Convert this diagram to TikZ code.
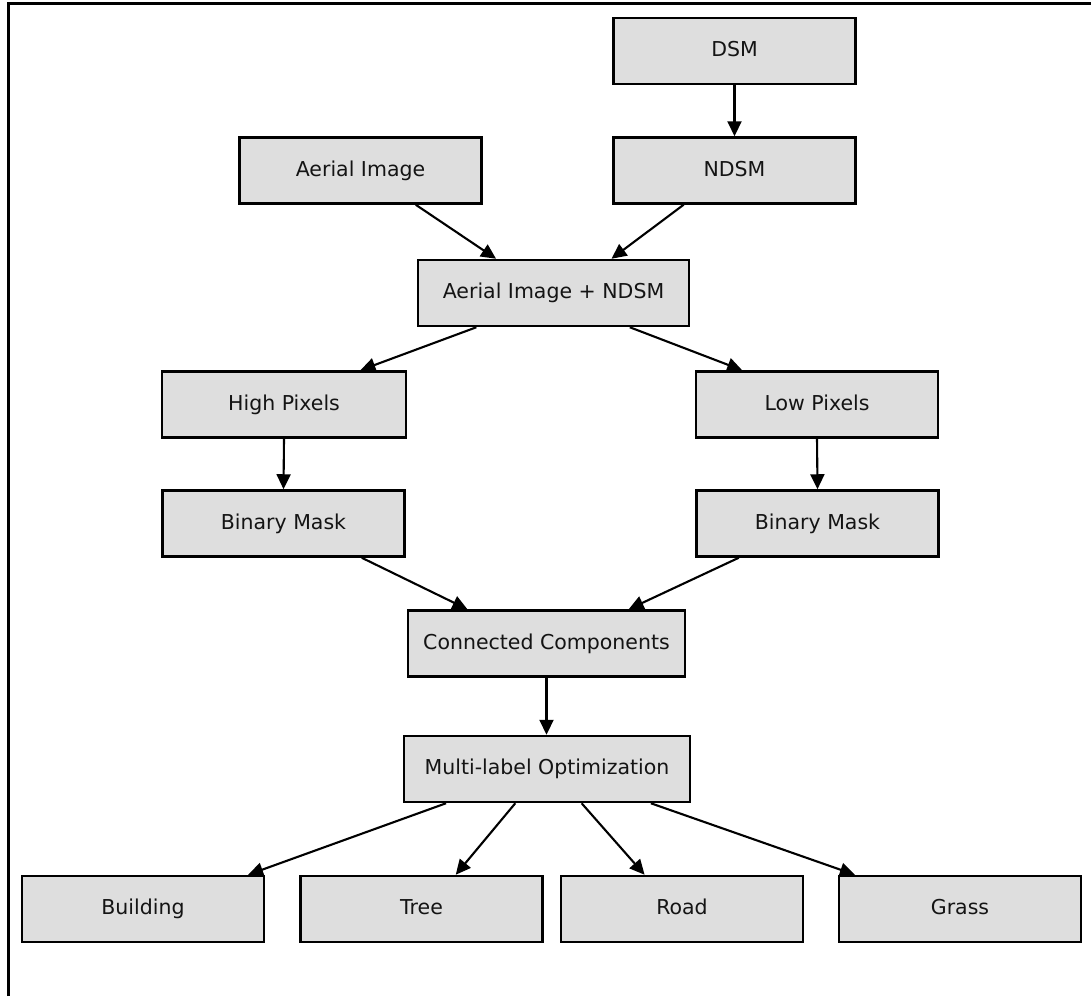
\documentclass[tikz,border=0pt]{standalone}
\usepackage{fontspec}
\setmainfont{DejaVu Sans}
\usetikzlibrary{calc,arrows.meta}
\definecolor{boxfill}{HTML}{DEDEDE}
\definecolor{txt}{HTML}{141414}
\tikzset{
  box/.style={draw=black, line width=2.5pt, fill=boxfill, minimum width=242pt, minimum height=66pt, inner sep=0pt, text height=15pt, text depth=4pt, font=\fontsize{20.5}{24}\selectfont, text=txt},
  arr/.style={line width=2.1pt, -{Triangle[length=15pt,width=14pt]}},
}
\newcommand{\bpt}[3]{($(#1.#2 west)!#3!(#1.#2 east)$)}
\begin{document}
\begin{tikzpicture}[x=1pt,y=-1pt]
\useasboundingbox (0,0) rectangle (1091,996);
\fill[white] (0,0) rectangle (1091,996);
\draw[line width=3pt] (8,996) -- (8,3) -- (1091,3);

\node[box] (dsm) at (734.5,51) {DSM};
\node[box] (ndsm) at (734.5,170.5) {NDSM};
\node[box] (aer) at (360.5,170.5) {Aerial Image};
\node[box, minimum width=271pt] (comb) at (553.5,293) {Aerial Image + NDSM};
\node[box, minimum width=244pt] (high) at (284,404.5) {High Pixels};
\node[box] (low) at (817,404.5) {Low Pixels};
\node[box] (bml) at (283.5,523.5) {Binary Mask};
\node[box] (bmr) at (817.5,523.5) {Binary Mask};
\node[box, minimum width=277pt] (cc) at (546.5,643.5) {Connected Components};
\node[box, minimum width=286pt] (mlo) at (547,769) {Multi-label Optimization};
\node[box] (bld) at (143,909) {Building};
\node[box] (tree) at (421.5,909) {Tree};
\node[box] (road) at (682,909) {Road};
\node[box] (grass) at (960,909) {Grass};

\draw[arr] (dsm.south) -- (ndsm.north);
\draw[arr] \bpt{aer}{south}{0.726} -- \bpt{comb}{north}{0.29};
\draw[arr] \bpt{ndsm}{south}{0.292} -- \bpt{comb}{north}{0.712};
\draw[arr] \bpt{comb}{south}{0.218} -- \bpt{high}{north}{0.81};
\draw[arr] \bpt{comb}{south}{0.779} -- \bpt{low}{north}{0.194};
\draw[arr] (high.south) -- (bml.south |- bml.north);
\draw[arr] (low.south) -- (bmr.south |- bmr.north);
\draw[arr] \bpt{bml}{south}{0.82} -- \bpt{cc}{north}{0.217};
\draw[arr] \bpt{bmr}{south}{0.178} -- \bpt{cc}{north}{0.794};
\draw[arr] (cc.south) -- (cc.south |- mlo.north);
\draw[arr] \bpt{mlo}{south}{0.15} -- \bpt{bld}{north}{0.93};
\draw[arr] \bpt{mlo}{south}{0.39} -- \bpt{tree}{north}{0.64};
\draw[arr] \bpt{mlo}{south}{0.62} -- \bpt{road}{north}{0.347};
\draw[arr] \bpt{mlo}{south}{0.86} -- \bpt{grass}{north}{0.07};
\end{tikzpicture}
\end{document}
